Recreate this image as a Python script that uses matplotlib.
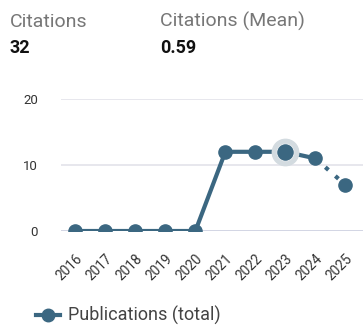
import matplotlib
matplotlib.use("Agg")
import matplotlib.pyplot as plt
from matplotlib.lines import Line2D

plt.rcParams['font.family'] = ['Roboto', 'DejaVu Sans']

years = [2016, 2017, 2018, 2019, 2020, 2021, 2022, 2023, 2024, 2025]
publications = [0, 0, 0, 0, 0, 12, 12, 12, 11, 7]
highlight_year = 2023
citations_total = "32"
citations_mean = "0.59"
series_name = "Publications (total)"

color = "#3b6781"

fig = plt.figure(figsize=(3.63, 3.27), dpi=100)
W, H = 363, 327

ax = fig.add_axes([61 / W, 1 - 231 / H, (W - 61) / W, (231 - 99) / H])
ax.set_xlim(2015.52, 2025.59)
ax.set_ylim(0, 20)

# solid line through completed years, dotted to the current year
ax.plot(years[:-1], publications[:-1], color=color, lw=3, solid_capstyle='round', zorder=3)
ax.plot(years[-2:], publications[-2:], color=color, lw=3, ls=(0, (1, 2.2)), zorder=3)
ax.plot(years, publications, 'o', color=color, ms=9.5, zorder=4)

hi = years.index(highlight_year)
ax.plot([years[hi]], [publications[hi]], 'o', color="#d3dbe0", ms=19, zorder=4.5)
ax.plot([years[hi]], [publications[hi]], 'o', color=color, ms=12.5, mec="#eef1f3", mew=0.6, zorder=5)

ax.set_yticks([0, 10, 20])
ax.set_yticklabels(["0", "10", "20"])
ax.set_xticks(years)
ax.set_xticklabels([str(y) for y in years], rotation=45, ha='right', rotation_mode='anchor')
ax.tick_params(axis='y', length=0, pad=16.5, labelsize=9.5, labelcolor="#333333")
ax.tick_params(axis='x', length=0, pad=15, labelsize=9.8, labelcolor="#333333")
ax.grid(axis='y', color="#e3e3ea", lw=1.2)
ax.axhline(0, color="#cfd3e3", lw=1.2, zorder=1)
for s in ax.spines.values():
    s.set_visible(False)
ax.set_axisbelow(True)

fig.text(10 / W, 1 - 27 / H, "Citations", fontsize=14, color="#777777", va='baseline')
fig.text(10 / W, 1 - 53 / H, citations_total, fontsize=13, color="#111111", fontweight='bold', va='baseline')
fig.text(160 / W, 1 - 27 / H, "Citations (Mean)", fontsize=14, color="#777777", va='baseline')
fig.text(160 / W, 1 - 53 / H, citations_mean, fontsize=13, color="#111111", fontweight='bold', va='baseline')

# legend entry
leg = fig.add_axes([0, 0, 1, 1], facecolor='none')
leg.set_xlim(0, W)
leg.set_ylim(H, 0)
leg.axis('off')
leg.add_line(Line2D([36, 60], [315, 315], color=color, lw=3))
leg.plot([48], [315], 'o', color=color, ms=9)
leg.text(68, 315, series_name, fontsize=13, color="#444444", va='center')

fig.savefig("out.png", dpi=100)
